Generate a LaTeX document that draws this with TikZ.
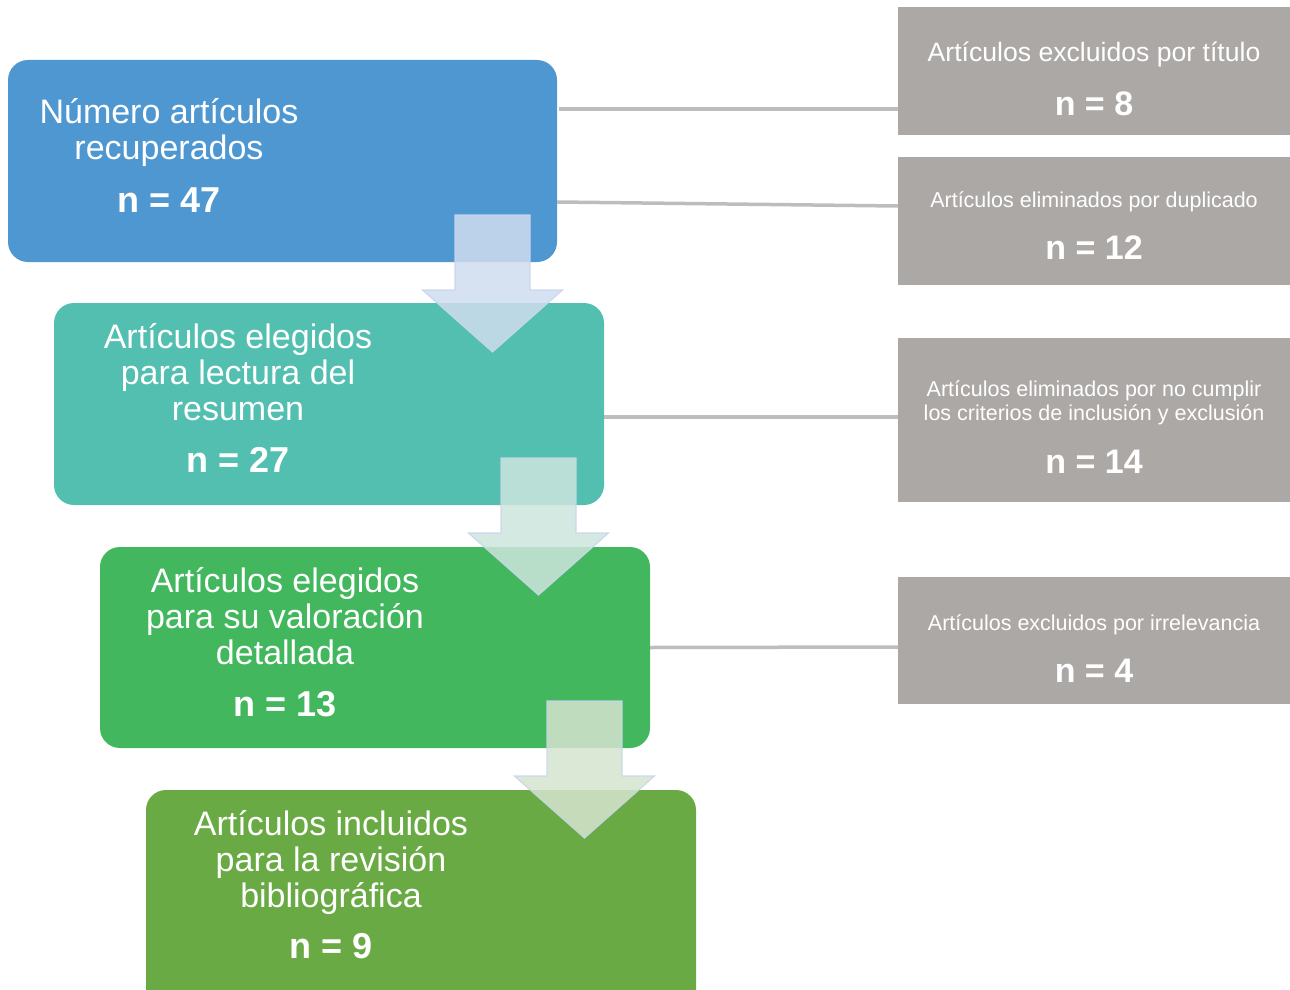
\documentclass[tikz,border=0pt]{standalone}
\usepackage{fontspec}
\setmainfont{Liberation Sans}
\definecolor{stageA}{RGB}{79,151,208}
\definecolor{stageB}{RGB}{82,191,176}
\definecolor{stageC}{RGB}{66,183,94}
\definecolor{stageD}{RGB}{106,170,69}
\definecolor{sidegray}{RGB}{172,168,166}
\definecolor{linkgray}{RGB}{189,189,189}
\definecolor{arrowA}{RGB}{207,221,239}
\definecolor{arrowB}{RGB}{205,229,221}
\definecolor{arrowC}{RGB}{214,228,207}
\definecolor{arrowedge}{RGB}{200,214,236}
\begin{document}
\begin{tikzpicture}[x=1pt,y=-1pt,
  stage/.style={rectangle, rounded corners=20pt, draw=none, inner sep=0pt, outer sep=0pt},
  side/.style={rectangle, fill=sidegray, draw=none, inner sep=0pt, outer sep=0pt},
  bigtxt/.style={text=white, inner sep=0pt, anchor=base, font=\fontsize{34}{36}\selectfont},
  bignum/.style={text=white, inner sep=0pt, anchor=base, font=\fontsize{36}{40}\selectfont\bfseries},
  sidetxt/.style={text=white, inner sep=0pt, anchor=base, font=\fontsize{21.5}{24}\selectfont},
  sidetxtL/.style={text=white, inner sep=0pt, anchor=base, font=\fontsize{26.6}{30}\selectfont},
  sidenum/.style={text=white, inner sep=0pt, anchor=base, font=\fontsize{34}{38}\selectfont\bfseries},
  link/.style={draw=linkgray, line width=3.5pt},
  flowarrow/.style={draw=arrowedge, line width=1.2pt, fill opacity=0.85, draw opacity=0.9},
  downarrow/.pic={
    \path[pic actions] (-37.5,0) -- (37.5,0) -- (37.5,75) -- (70,75) -- (0,137)
      -- (-70,75) -- (-37.5,75) -- cycle;
  }
]
\useasboundingbox (0,0) rectangle (1290,990);
\clip (0,0) rectangle (1290,990);

% main stages
\node[stage, fill=stageA, minimum width=549pt, minimum height=202pt] (s1) at (282.5,161) {};
\node[stage, fill=stageB, minimum width=550pt, minimum height=202pt] (s2) at (329,404) {};
\node[stage, fill=stageC, minimum width=550pt, minimum height=201pt] (s3) at (375,647.5) {};
\node[stage, fill=stageD, minimum width=550pt, minimum height=220pt] (s4) at (421,900) {};

% side boxes
\node[side, minimum width=392pt, minimum height=128pt] (g1) at (1094,71) {};
\node[side, minimum width=392pt, minimum height=128pt] (g2) at (1094,221) {};
\node[side, minimum width=392pt, minimum height=164pt] (g3) at (1094,420) {};
\node[side, minimum width=392pt, minimum height=127pt] (g4) at (1094,640.5) {};

% connectors from stages to side boxes
\draw[link] ([yshift=52pt,xshift=2pt]s1.east) -- ([yshift=-38pt]g1.west);
\draw[link] ([yshift=-41pt]s1.east) -- ([yshift=15pt]g2.west);
\draw[link] ([yshift=-13pt]s2.east) -- ([yshift=3pt]g3.west);
\draw[link] (s3.east) -- ([yshift=-6.5pt]g4.west);

% down arrows between stages
\pic[flowarrow, fill=arrowA] at (492.5,215) {downarrow};
\pic[flowarrow, fill=arrowB] at (538.5,458) {downarrow};
\pic[flowarrow, fill=arrowC] at (584.5,701) {downarrow};

% stage texts
\node[bigtxt] (t1a) at (169,123) {Número artículos};
\node[bigtxt] (t1b) at (169,159) {recuperados};
\node[bignum] (n1) at (169,212) {n = 47};

\node[bigtxt] (t2a) at (238,348) {Artículos elegidos};
\node[bigtxt] (t2b) at (238,384) {para lectura del};
\node[bigtxt] (t2c) at (238,420) {resumen};
\node[bignum] (n2) at (238,472) {n = 27};

\node[bigtxt] (t3a) at (285,592) {Artículos elegidos};
\node[bigtxt] (t3b) at (285,628) {para su valoración};
\node[bigtxt] (t3c) at (285,664) {detallada};
\node[bignum] (n3) at (285,716) {n = 13};

\node[bigtxt] (t4a) at (331,835) {Artículos incluidos};
\node[bigtxt] (t4b) at (331,871) {para la revisión};
\node[bigtxt] (t4c) at (331,907) {bibliográfica};
\node[bignum] (n4) at (331,958) {n = 9};

% side texts
\node[sidetxtL] (u1) at (1094,62) {Artículos excluidos por título};
\node[sidenum] (m1) at (1094,115) {n = 8};

\node[sidetxt] (u2) at (1094,207) {Artículos eliminados por duplicado};
\node[sidenum] (m2) at (1094,259) {n = 12};

\node[sidetxt] (u3a) at (1094,396) {Artículos eliminados por no cumplir};
\node[sidetxt] (u3b) at (1094,420) {los criterios de inclusión y exclusión};
\node[sidenum] (m3) at (1094,473) {n = 14};

\node[sidetxt] (u4) at (1094,630) {Artículos excluidos por irrelevancia};
\node[sidenum] (m4) at (1094,682) {n = 4};
\end{tikzpicture}
\end{document}
